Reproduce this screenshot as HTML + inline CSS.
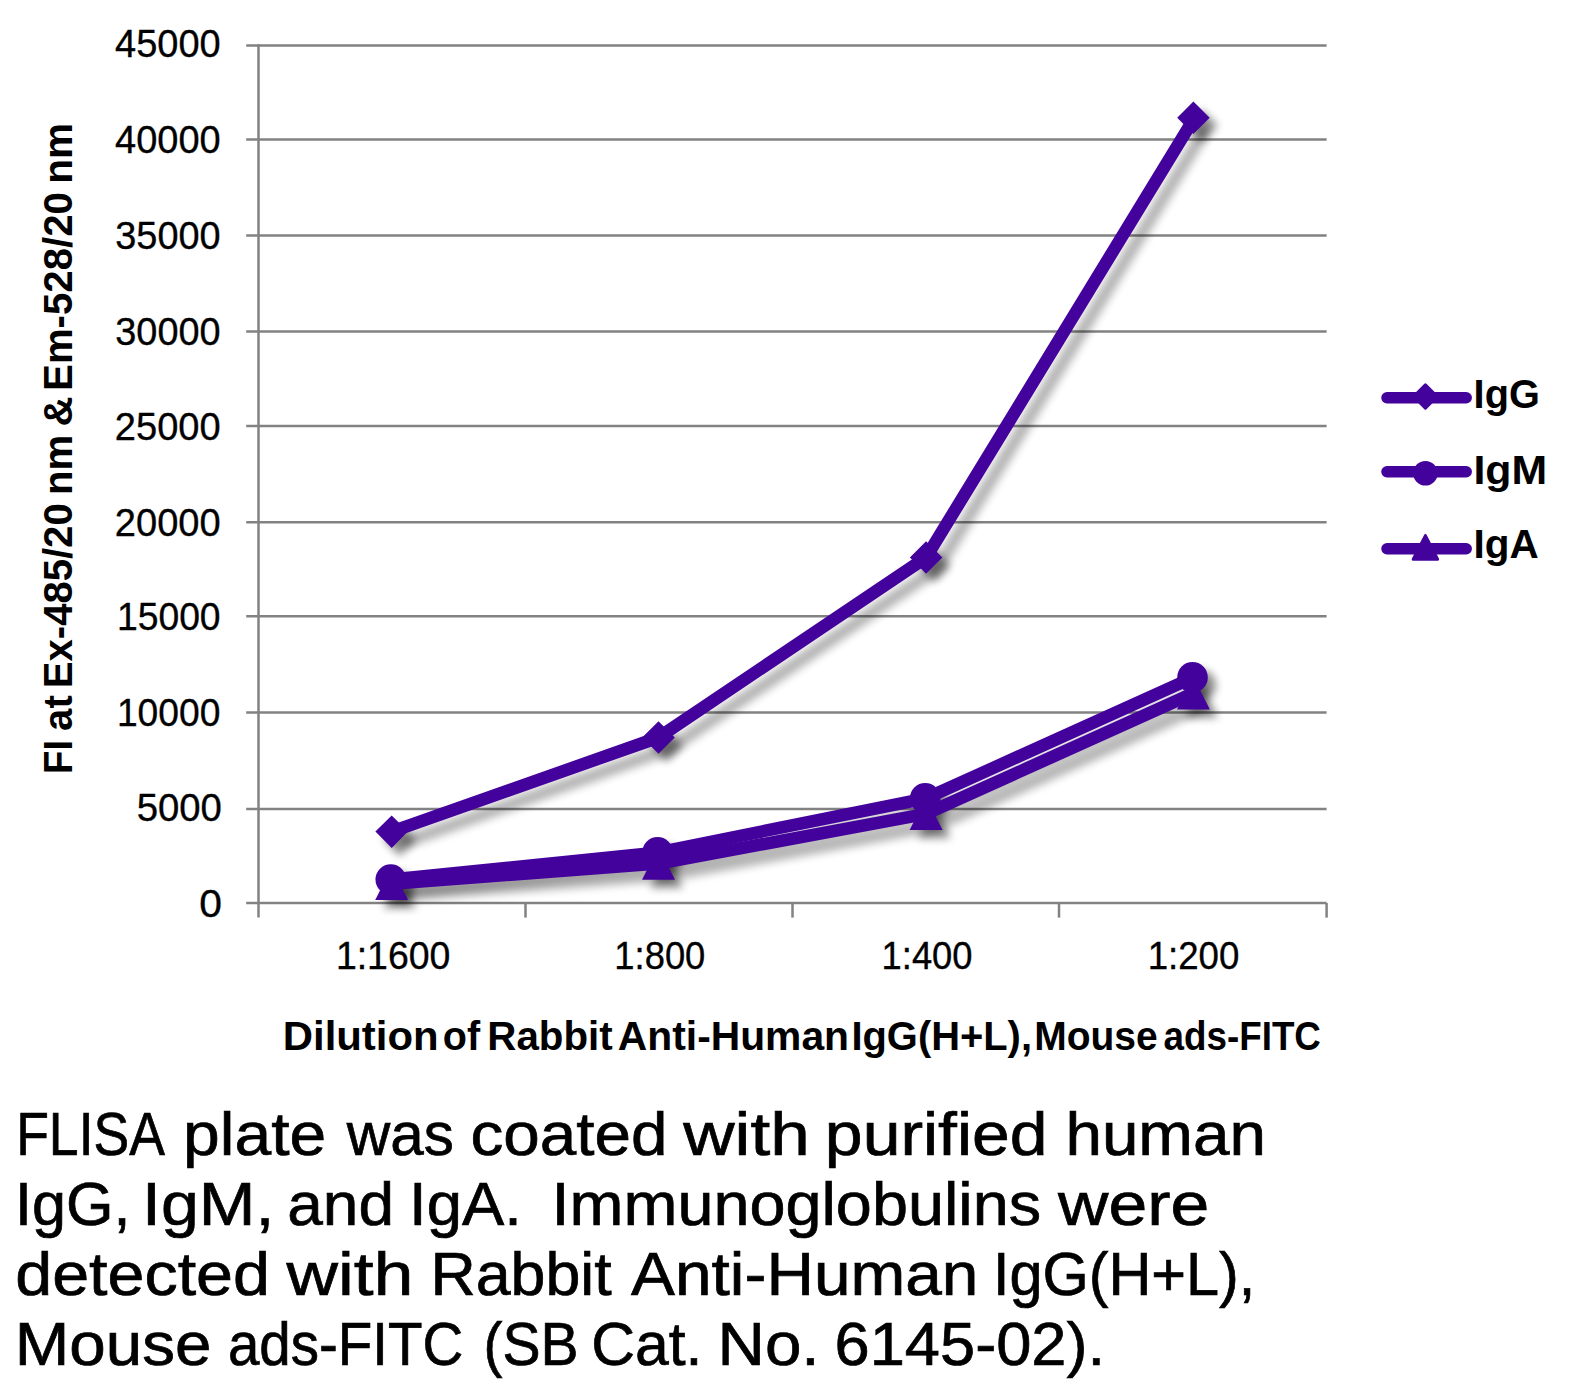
<!DOCTYPE html>
<html lang="en"><head><meta charset="utf-8"><title>FLISA Rabbit Anti-Human IgG(H+L), Mouse ads-FITC</title>
<style>html,body{margin:0;padding:0;background:#fff}body{width:1590px;height:1393px;overflow:hidden}svg{display:block}text{font-family:"Liberation Sans",Arial,Helvetica,sans-serif;fill:#000}</style>
</head><body>
<svg width="1590" height="1393" viewBox="0 0 1590 1393">
<defs><filter id="shL" x="-10%" y="-10%" width="125%" height="125%"><feGaussianBlur in="SourceAlpha" stdDeviation="4" result="b"/><feOffset in="b" dx="10.5" dy="10.5" result="o"/><feComponentTransfer in="o"><feFuncA type="linear" slope="0.3"/></feComponentTransfer></filter><filter id="shM" x="-10%" y="-10%" width="125%" height="125%"><feGaussianBlur in="SourceAlpha" stdDeviation="4" result="b"/><feOffset in="b" dx="7.5" dy="7.5" result="o"/><feComponentTransfer in="o"><feFuncA type="linear" slope="0.46"/></feComponentTransfer></filter></defs>
<rect width="1590" height="1393" fill="#fff"/>
<g stroke="#828282" stroke-width="2.5" fill="none">
<line x1="246.2" y1="45.5" x2="1326.6" y2="45.5"/>
<line x1="246.2" y1="139.5" x2="1326.6" y2="139.5"/>
<line x1="246.2" y1="235.5" x2="1326.6" y2="235.5"/>
<line x1="246.2" y1="331.5" x2="1326.6" y2="331.5"/>
<line x1="246.2" y1="426.0" x2="1326.6" y2="426.0"/>
<line x1="246.2" y1="522.3" x2="1326.6" y2="522.3"/>
<line x1="246.2" y1="616.3" x2="1326.6" y2="616.3"/>
<line x1="246.2" y1="712.5" x2="1326.6" y2="712.5"/>
<line x1="246.2" y1="808.9" x2="1326.6" y2="808.9"/>
<line x1="246.2" y1="903.0" x2="1326.6" y2="903.0"/>
<line x1="258.5" y1="44.3" x2="258.5" y2="917.6"/>
<line x1="525.5" y1="903" x2="525.5" y2="917.6"/>
<line x1="792.5" y1="903" x2="792.5" y2="917.6"/>
<line x1="1059.0" y1="903" x2="1059.0" y2="917.6"/>
<line x1="1326.6" y1="903" x2="1326.6" y2="917.6"/>
</g>
<g>
<polyline points="391.7,831.6 658.5,737.5 926.1,557.5 1194.5,117.7" fill="none" stroke="#44029d" stroke-width="12.5" stroke-linejoin="round" filter="url(#shL)"/>
<g fill="#44029d" filter="url(#shM)"><path d="M375.4 831.6L391.7 815.4L407.9 831.6L391.7 847.9Z"/><path d="M642.2 737.5L658.5 721.2L674.8 737.5L658.5 753.8Z"/><path d="M909.9 557.5L926.1 541.2L942.4 557.5L926.1 573.8Z"/><path d="M1177.2 117.7L1193.4 101.5L1209.7 117.7L1193.4 133.9Z"/></g>
<polyline points="391.7,879.5 658.5,852.4 926.1,798.3 1193.4,677.4" fill="none" stroke="#44029d" stroke-width="12.5" stroke-linejoin="round" filter="url(#shL)"/>
<g fill="#44029d" filter="url(#shM)"><circle cx="390.8" cy="879.5" r="15.3"/><circle cx="657.6" cy="852.4" r="15.3"/><circle cx="925.2" cy="798.3" r="15.3"/><circle cx="1192.5" cy="677.4" r="15.3"/></g>
<polyline points="391.7,883.8 658.5,863.5 926.1,813.8 1193.4,693.2" fill="none" stroke="#44029d" stroke-width="12.5" stroke-linejoin="round" filter="url(#shL)"/>
<g fill="#44029d" filter="url(#shM)"><path d="M391.7 867.5L408.1 900.0L375.2 900.0Z"/><path d="M658.5 847.3L675.0 879.8L642.0 879.8Z"/><path d="M926.1 797.5L942.6 830.0L909.6 830.0Z"/><path d="M1193.4 677.0L1209.9 709.5L1177.0 709.5Z"/></g>
</g>
<g>
<polyline points="391.7,831.6 658.5,737.5 926.1,557.5 1194.5,117.7" fill="none" stroke="#44029d" stroke-width="12.5" stroke-linejoin="round"/>
<g fill="#44029d"><path d="M375.4 831.6L391.7 815.4L407.9 831.6L391.7 847.9Z"/><path d="M642.2 737.5L658.5 721.2L674.8 737.5L658.5 753.8Z"/><path d="M909.9 557.5L926.1 541.2L942.4 557.5L926.1 573.8Z"/><path d="M1177.2 117.7L1193.4 101.5L1209.7 117.7L1193.4 133.9Z"/></g>
<polyline points="391.7,879.5 658.5,852.4 926.1,798.3 1193.4,677.4" fill="none" stroke="#44029d" stroke-width="12.5" stroke-linejoin="round"/>
<g fill="#44029d"><circle cx="390.8" cy="879.5" r="15.3"/><circle cx="657.6" cy="852.4" r="15.3"/><circle cx="925.2" cy="798.3" r="15.3"/><circle cx="1192.5" cy="677.4" r="15.3"/></g>
<polyline points="391.7,883.8 658.5,863.5 926.1,813.8 1193.4,693.2" fill="none" stroke="#44029d" stroke-width="12.5" stroke-linejoin="round"/>
<g fill="#44029d"><path d="M391.7 867.5L408.1 900.0L375.2 900.0Z"/><path d="M658.5 847.3L675.0 879.8L642.0 879.8Z"/><path d="M926.1 797.5L942.6 830.0L909.6 830.0Z"/><path d="M1193.4 677.0L1209.9 709.5L1177.0 709.5Z"/></g>
</g>
<g fill="#44029d" stroke="#44029d" stroke-width="11.5" stroke-linecap="round">
<line x1="1387" y1="397.7" x2="1466.2" y2="397.7"/>
<line x1="1387" y1="471.8" x2="1466.2" y2="471.8"/>
<line x1="1387" y1="548.7" x2="1466.2" y2="548.7"/>
</g>
<g fill="#44029d" stroke="#44029d" stroke-width="3" stroke-linejoin="round">
<path d="M1413.7 396.5L1425.4 384.8L1437.1000000000001 396.5L1425.4 408.2Z"/>
<circle cx="1425.4" cy="473.2" r="10.8"/>
<path d="M1425.4 535.6L1437.6000000000001 559.3L1413.2 559.3Z"/>
</g>
<g stroke="#000" stroke-width="0.35">
<text x="115.05" y="57.00" font-size="39.30" textLength="105.61" lengthAdjust="spacingAndGlyphs">45000</text>
<text x="115.05" y="152.90" font-size="39.30" textLength="105.61" lengthAdjust="spacingAndGlyphs">40000</text>
<text x="115.28" y="249.00" font-size="39.30" textLength="105.37" lengthAdjust="spacingAndGlyphs">35000</text>
<text x="115.28" y="345.00" font-size="39.30" textLength="105.37" lengthAdjust="spacingAndGlyphs">30000</text>
<text x="114.80" y="439.60" font-size="39.30" textLength="105.86" lengthAdjust="spacingAndGlyphs">25000</text>
<text x="114.80" y="535.90" font-size="39.30" textLength="105.86" lengthAdjust="spacingAndGlyphs">20000</text>
<text x="116.90" y="629.90" font-size="39.30" textLength="103.73" lengthAdjust="spacingAndGlyphs">15000</text>
<text x="116.91" y="726.00" font-size="39.30" textLength="103.52" lengthAdjust="spacingAndGlyphs">10000</text>
<text x="136.67" y="821.00" font-size="39.30" textLength="85.25" lengthAdjust="spacingAndGlyphs">5000</text>
<text x="199.27" y="916.60" font-size="39.30" textLength="22.71" lengthAdjust="spacingAndGlyphs">0</text>
</g>
<g stroke="#000" stroke-width="0.35">
<text x="335.89" y="969.20" font-size="39.30" textLength="114.56" lengthAdjust="spacingAndGlyphs">1:1600</text>
<text x="614.37" y="969.20" font-size="39.30" textLength="90.99" lengthAdjust="spacingAndGlyphs">1:800</text>
<text x="881.57" y="969.20" font-size="39.30" textLength="90.99" lengthAdjust="spacingAndGlyphs">1:400</text>
<text x="1147.65" y="969.20" font-size="39.30" textLength="91.72" lengthAdjust="spacingAndGlyphs">1:200</text>
</g>
<g>
<text x="1473.62" y="408.30" font-size="40.10" font-weight="700" textLength="66.23" lengthAdjust="spacingAndGlyphs">IgG</text>
<text x="1473.41" y="483.90" font-size="40.10" font-weight="700" textLength="73.76" lengthAdjust="spacingAndGlyphs">IgM</text>
<text x="1473.57" y="558.30" font-size="40.10" font-weight="700" textLength="65.18" lengthAdjust="spacingAndGlyphs">IgA</text>
</g>
<g>
<text x="282.77" y="1049.60" font-size="40.10" font-weight="700" textLength="155.79" lengthAdjust="spacingAndGlyphs">Dilution</text>
<text x="442.72" y="1049.60" font-size="40.10" font-weight="700" textLength="37.34" lengthAdjust="spacingAndGlyphs">of</text>
<text x="487.38" y="1049.60" font-size="40.10" font-weight="700" textLength="125.26" lengthAdjust="spacingAndGlyphs">Rabbit</text>
<text x="617.88" y="1049.60" font-size="40.10" font-weight="700" textLength="231.11" lengthAdjust="spacingAndGlyphs">Anti-Human</text>
<text x="851.41" y="1049.60" font-size="40.10" font-weight="700" textLength="180.58" lengthAdjust="spacingAndGlyphs">IgG(H+L),</text>
<text x="1034.27" y="1049.60" font-size="40.10" font-weight="700" textLength="123.48" lengthAdjust="spacingAndGlyphs">Mouse</text>
<text x="1163.60" y="1049.60" font-size="40.10" font-weight="700" textLength="157.33" lengthAdjust="spacingAndGlyphs">ads-FITC</text>
</g>
<g transform="translate(71.7 771.3) rotate(-90)">
<text x="-2.59" y="0.00" font-size="40.10" font-weight="700" textLength="34.13" lengthAdjust="spacingAndGlyphs">FI</text>
<text x="40.40" y="0.00" font-size="40.10" font-weight="700" textLength="35.67" lengthAdjust="spacingAndGlyphs">at</text>
<text x="83.10" y="0.00" font-size="40.10" font-weight="700" textLength="184.90" lengthAdjust="spacingAndGlyphs">Ex-485/20</text>
<text x="276.28" y="0.00" font-size="40.10" font-weight="700" textLength="60.44" lengthAdjust="spacingAndGlyphs">nm</text>
<text x="344.92" y="0.00" font-size="40.10" font-weight="700" textLength="30.12" lengthAdjust="spacingAndGlyphs">&amp;</text>
<text x="380.39" y="0.00" font-size="40.10" font-weight="700" textLength="198.84" lengthAdjust="spacingAndGlyphs">Em-528/20</text>
<text x="587.57" y="0.00" font-size="40.10" font-weight="700" textLength="60.77" lengthAdjust="spacingAndGlyphs">nm</text>
</g>
<g stroke="#000" stroke-width="0.7">
<text x="16.19" y="1155.40" font-size="60.50" textLength="148.69" lengthAdjust="spacingAndGlyphs">FLISA</text>
<text x="183.11" y="1155.40" font-size="60.50" textLength="143.06" lengthAdjust="spacingAndGlyphs">plate</text>
<text x="346.70" y="1155.40" font-size="60.50" textLength="107.16" lengthAdjust="spacingAndGlyphs">was</text>
<text x="470.51" y="1155.40" font-size="60.50" textLength="196.89" lengthAdjust="spacingAndGlyphs">coated</text>
<text x="683.30" y="1155.40" font-size="60.50" textLength="126.38" lengthAdjust="spacingAndGlyphs">with</text>
<text x="824.89" y="1155.40" font-size="60.50" textLength="222.65" lengthAdjust="spacingAndGlyphs">purified</text>
<text x="1065.41" y="1155.40" font-size="60.50" textLength="200.57" lengthAdjust="spacingAndGlyphs">human</text>
<text x="15.05" y="1225.20" font-size="60.50" textLength="115.43" lengthAdjust="spacingAndGlyphs">IgG,</text>
<text x="142.00" y="1225.20" font-size="60.50" textLength="132.42" lengthAdjust="spacingAndGlyphs">IgM,</text>
<text x="287.28" y="1225.20" font-size="60.50" textLength="106.78" lengthAdjust="spacingAndGlyphs">and</text>
<text x="409.14" y="1225.20" font-size="60.50" textLength="112.64" lengthAdjust="spacingAndGlyphs">IgA.</text>
<text x="551.61" y="1225.20" font-size="60.50" textLength="489.44" lengthAdjust="spacingAndGlyphs">Immunoglobulins</text>
<text x="1058.10" y="1225.20" font-size="60.50" textLength="151.27" lengthAdjust="spacingAndGlyphs">were</text>
<text x="15.28" y="1295.20" font-size="60.50" textLength="254.67" lengthAdjust="spacingAndGlyphs">detected</text>
<text x="286.60" y="1295.20" font-size="60.50" textLength="126.69" lengthAdjust="spacingAndGlyphs">with</text>
<text x="430.43" y="1295.20" font-size="60.50" textLength="181.19" lengthAdjust="spacingAndGlyphs">Rabbit</text>
<text x="631.14" y="1295.20" font-size="60.50" textLength="347.34" lengthAdjust="spacingAndGlyphs">Anti-Human</text>
<text x="992.90" y="1295.20" font-size="60.50" textLength="262.48" lengthAdjust="spacingAndGlyphs">IgG(H+L),</text>
<text x="14.69" y="1364.80" font-size="60.50" textLength="196.69" lengthAdjust="spacingAndGlyphs">Mouse</text>
<text x="227.90" y="1364.80" font-size="60.50" textLength="235.34" lengthAdjust="spacingAndGlyphs">ads-FITC</text>
<text x="483.53" y="1364.80" font-size="60.50" textLength="95.13" lengthAdjust="spacingAndGlyphs">(SB</text>
<text x="591.17" y="1364.80" font-size="60.50" textLength="111.29" lengthAdjust="spacingAndGlyphs">Cat.</text>
<text x="717.59" y="1364.80" font-size="60.50" textLength="101.98" lengthAdjust="spacingAndGlyphs">No.</text>
<text x="834.54" y="1364.80" font-size="60.50" textLength="270.61" lengthAdjust="spacingAndGlyphs">6145-02).</text>
</g>
</svg>
</body></html>
